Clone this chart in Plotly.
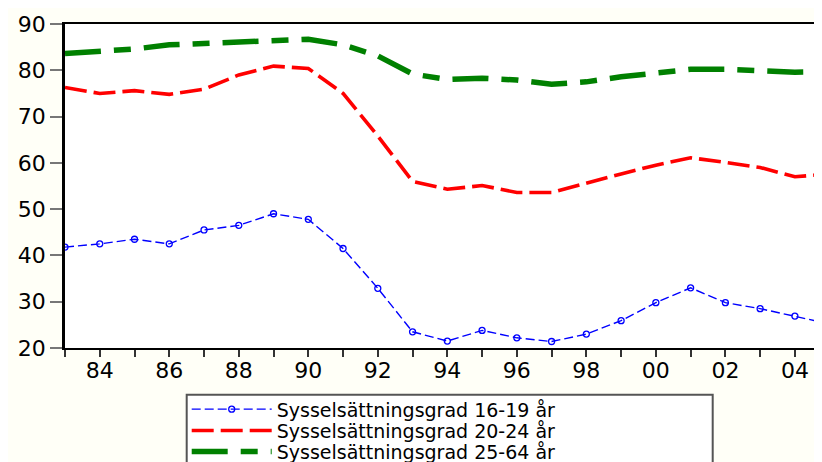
import plotly.graph_objects as go

years = list(range(1983, 2006))
tick_years = list(range(1983, 2006))
tick_text = ["" if y % 2 else f"{y % 100:02d}" for y in tick_years]
y_ticks = [20, 30, 40, 50, 60, 70, 80, 90]

g16_19 = [41.8, 42.5, 43.5, 42.5, 45.5, 46.5, 49.0, 47.8, 41.5, 32.9, 23.5,
          21.5, 23.8, 22.2, 21.4, 23.0, 25.9, 29.8, 33.0, 29.8, 28.5, 26.9, 25.2]
g20_24 = [76.3, 75.0, 75.6, 74.8, 75.9, 79.0, 80.9, 80.4, 75.0, 65.8, 56.0,
          54.3, 55.1, 53.6, 53.6, 55.7, 57.6, 59.5, 61.1, 60.1, 59.0, 57.0, 57.6]
g25_64 = [83.6, 84.0, 84.6, 85.5, 85.8, 86.1, 86.5, 86.7, 85.5, 83.1, 79.2,
          78.0, 78.3, 77.9, 77.0, 77.5, 78.6, 79.5, 80.2, 80.2, 79.8, 79.6, 79.7]

names = ["Sysselsättningsgrad 16-19 år",
         "Sysselsättningsgrad 20-24 år",
         "Sysselsättningsgrad 25-64 år"]

fig = go.Figure()
fig.add_trace(go.Scatter(
    x=years, y=g16_19, name=names[0], mode="lines+markers", legend="legend",
    line=dict(color="#0000ff", width=1.4, dash="9px,4px"),
    marker=dict(symbol="circle-open", size=6, color="#0000ff", line=dict(width=1.3)),
))
fig.add_trace(go.Scatter(
    x=years, y=g20_24, name=names[1], mode="lines", legend="legend2",
    line=dict(color="#ff0000", width=3.6, dash="22px,7px"),
))
fig.add_trace(go.Scatter(
    x=years, y=g25_64, name=names[2], mode="lines", legend="legend3",
    line=dict(color="#008000", width=5.5, dash="36px,13px,17px,13px"),
))

# page body has an 8px margin; figure coordinates = page coordinates - 8
OFF = 8
FIG_W, FIG_H = 822 - OFF, 462 - OFF
PLOT_TOP = 24 - OFF
PLOT_BOTTOM = 348 - OFF
PLOT_H = PLOT_BOTTOM - PLOT_TOP
PLOT_L = 65 - OFF
PLOT_R = 822 - OFF
PLOT_W = PLOT_R - PLOT_L


def py(page_pix):
    return (PLOT_BOTTOM - (page_pix - OFF)) / PLOT_H


def px(page_pix):
    return ((page_pix - OFF) - PLOT_L) / PLOT_W


leg_font = dict(family="DejaVu Sans, sans-serif", size=19, color="black")
common = dict(x=px(186.7), xanchor="left", yanchor="middle",
              bgcolor="rgba(0,0,0,0)", borderwidth=0, font=leg_font,
              itemwidth=80)

fig.update_layout(
    width=FIG_W, height=FIG_H,
    margin=dict(l=PLOT_L, r=FIG_W - PLOT_R, t=PLOT_TOP, b=FIG_H - PLOT_BOTTOM,
                autoexpand=False),
    paper_bgcolor="#fffff7",
    plot_bgcolor="#ffffff",
    font=dict(family="DejaVu Sans, sans-serif", color="black", size=17),
    showlegend=True,
    legend=dict(y=py(409.3), **common),
    legend2=dict(y=py(430.7), **common),
    legend3=dict(y=py(451.7), **common),
    shapes=[dict(type="rect", xref="paper", yref="paper", layer="below",
                 x0=px(186.7), x1=px(712.7), y0=py(394.7), y1=py(490),
                 line=dict(color="#555555", width=2), fillcolor="#ffffff")],
    xaxis=dict(
        range=[1983, 2004.78], tickmode="array", tickvals=tick_years, ticktext=tick_text,
        ticks="outside", ticklen=7, tickwidth=1.5, tickcolor="#333333",
        showline=True, linecolor="black", linewidth=2, mirror=True,
        showgrid=False, zeroline=False, automargin=False,
        ticklabelstandoff=-5,
        tickfont=dict(family="DejaVu Sans, sans-serif", size=22),
    ),
    yaxis=dict(
        range=[20, 90], tickvals=y_ticks,
        ticks="outside", ticklen=12, tickwidth=1.5, tickcolor="#777777",
        showline=True, linecolor="black", linewidth=2.5,
        showgrid=False, zeroline=False, automargin=False,
        tickfont=dict(family="DejaVu Sans, sans-serif", size=22),
    ),
)

fig.write_html("out.html")
